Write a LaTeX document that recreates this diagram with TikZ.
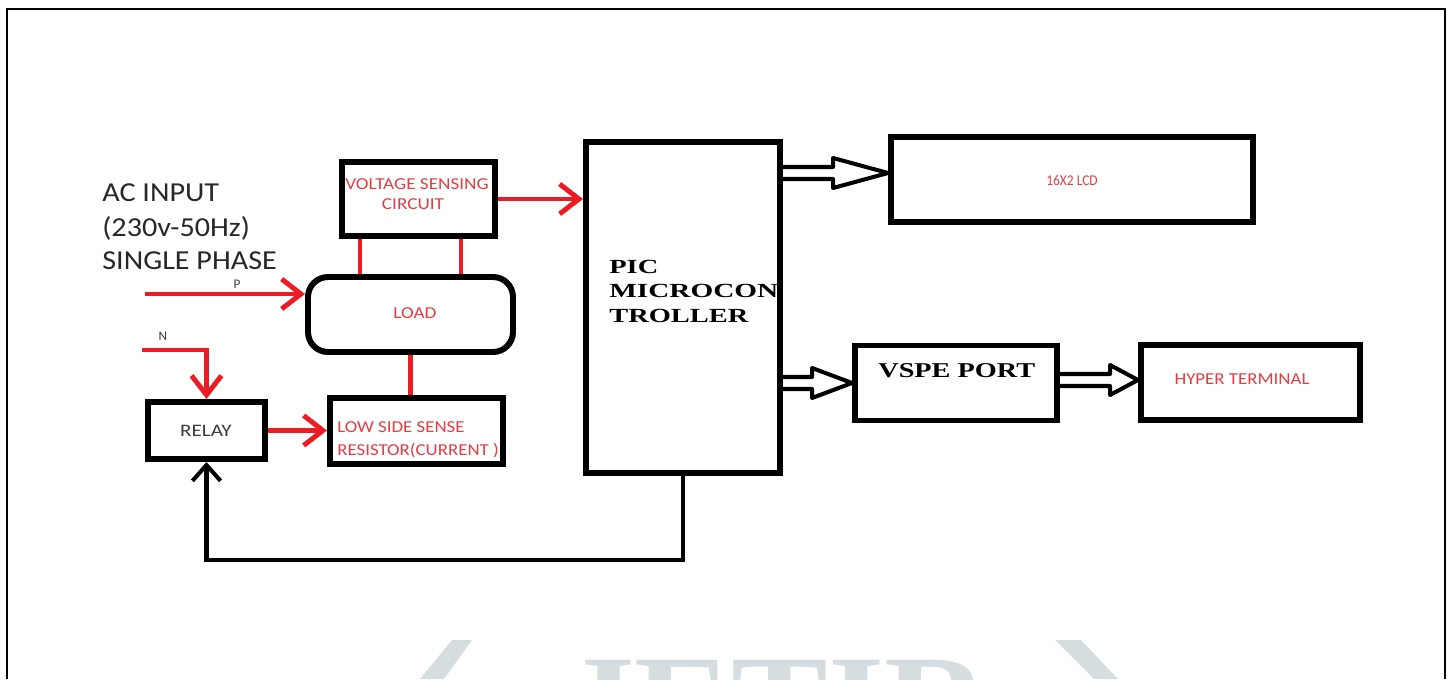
\documentclass[tikz,border=0pt]{standalone}
\usepackage{fontspec}
\usepackage{graphicx}
\newfontfamily\carl{Carlito}
\newfontfamily\tnr{Liberation Serif}
\usetikzlibrary{arrows.meta,calc}
\definecolor{pred}{RGB}{237,28,36}
\definecolor{ptxt}{RGB}{232,60,68}
\definecolor{dgray}{RGB}{40,40,40}
\definecolor{mgray}{RGB}{60,60,60}
\definecolor{wm}{RGB}{213,221,225}
\newcommand\hollowarr[3]{%
  \draw[hollow] ($(#1)+(0,-6)$) -- ($(#2)+(-#3,-6)$) -- ($(#2)+(-#3,-15)$) -- (#2)
    -- ($(#2)+(-#3,15)$) -- ($(#2)+(-#3,6)$) -- ($(#1)+(0,6)$);}
\newcommand\sx[2]{\scalebox{#1}[1]{#2}}
\tikzset{
  box/.style={draw=black, line width=3.4pt, rectangle, inner sep=0pt},
  redline/.style={draw=pred, line width=2.8pt},
  redarrow/.style={redline, -{Straight Barb[length=11pt,width=17pt]}},
  blkarrow/.style={draw=black, line width=2.3pt, -{Straight Barb[length=9pt,width=16pt]}},
  hollow/.style={draw=black, line width=2.3pt, line join=round},
  redtext/.style={text=ptxt, font=\carl\fontsize{9.5}{10}\selectfont, inner sep=0pt},
  grtext/.style={text=mgray, font=\carl\fontsize{10}{11}\selectfont, inner sep=0pt},
  actext/.style={text=dgray, font=\carl\fontsize{15.6}{18}\selectfont, inner sep=0pt, anchor=base west},
  bstext/.style={text=black, font=\tnr\bfseries\fontsize{11.4}{13.9}\selectfont, inner sep=0pt, anchor=base west},
}
\begin{document}
\begin{tikzpicture}[x=0.02cm,y=-0.02cm]
\useasboundingbox (0,0) rectangle (1449,679);
\fill[white] (0,0) rectangle (1449,679);
% outer frame
\draw[line width=1.5pt] (7,679) -- (7,9) -- (1445,9) -- (1445,679);

% watermark
\begin{scope}
\clip (0,0) rectangle (1449,679);
\node[anchor=north west, inner sep=0pt, text=wm, font=\tnr\bfseries\fontsize{75}{80}\selectfont] (wmtext) at (562,660) {\sx{1.1}{JETIR}};
\fill[wm] (452,640) -- (472,640) -- (444,679) -- (420,679) -- cycle;
\fill[wm] (1055,640) -- (1081,640) -- (1118,679) -- (1094,679) -- cycle;
\end{scope}

% AC input text
\node[actext] (ac1) at (102,201) {\sx{1.1}{AC INPUT}};
\node[actext] (ac2) at (102,236) {\sx{1.1}{(230v-50Hz)}};
\node[actext] (ac3) at (102,269) {\sx{1.1}{SINGLE PHASE}};

% boxes
\node[box, minimum width=153*0.02cm, minimum height=74*0.02cm] (volt) at (418.5,199) {};
\node[box, rounded corners=0.4cm, minimum width=205*0.02cm, minimum height=75*0.02cm] (load) at (410.5,314.5) {};
\node[box, minimum width=117*0.02cm, minimum height=57*0.02cm] (relay) at (206.5,430.5) {};
\node[box, minimum width=173*0.02cm, minimum height=66*0.02cm] (low) at (416.5,431) {};
\node[box, minimum width=194*0.02cm, minimum height=331*0.02cm] (pic) at (683,307.5) {};
\node[box, minimum width=362*0.02cm, minimum height=85*0.02cm] (lcd) at (1072,179.5) {};
\node[box, minimum width=202*0.02cm, minimum height=75*0.02cm] (vspe) at (956,383) {};
\node[box, minimum width=219*0.02cm, minimum height=75*0.02cm] (hyper) at (1250.5,382.5) {};

% texts in boxes
\node[redtext, anchor=base] (vt1) at (417,189) {\sx{1.15}{VOLTAGE SENSING}};
\node[redtext, anchor=base] (vt2) at (413,209) {\sx{1.15}{CIRCUIT}};
\node[redtext] (lt) at (415,313) {\sx{1.15}{LOAD}};
\node[grtext] (rt) at (206,431) {\sx{1.2}{RELAY}};
\node[redtext, anchor=base west] (ls1) at (337,432) {\sx{1.13}{LOW SIDE SENSE}};
\node[redtext, anchor=base west] (ls2) at (337,455) {\sx{1.13}{RESISTOR(CURRENT )}};
\node[redtext, font=\carl\fontsize{8.5}{9}\selectfont] (lcdt) at (1072,181) {\sx{0.9}{16X2 LCD}};
\node[redtext] (hyt) at (1242,379) {\sx{1.13}{HYPER TERMINAL}};
\node[bstext] (p1) at (609,273) {\sx{1.42}{PIC}};
\node[bstext] (p2) at (609,297) {\sx{1.46}{MICROCON}};
\node[bstext] (p3) at (609,322) {\sx{1.42}{TROLLER}};
\node[bstext, font=\tnr\bfseries\fontsize{12}{14}\selectfont] (vt) at (878,377) {\sx{1.34}{VSPE PORT}};

% P and N
\node[grtext, font=\carl\fontsize{7.5}{8}\selectfont] (plab) at (237,284) {P};
\node[grtext, font=\carl\fontsize{7.5}{8}\selectfont] (nlab) at (163,336) {N};
\coordinate (pin) at (145,294);
\coordinate (nin) at (142,350);

% red connectors
\draw[redarrow] (pin) -- (pin -| load.west);
\draw[redarrow] (nin) -| (relay.north);
\draw[redarrow] (volt.east) -- (volt.east -| pic.west);
\draw[redline] ([xshift=-1.17cm]volt.south) -- ([xshift=-1.17cm]volt.south |- load.north);
\draw[redline] ([xshift=0.85cm]volt.south) -- ([xshift=0.85cm]volt.south |- load.north);
\draw[redline] (load.south) -- (load.south |- low.north);
\draw[redarrow] (relay.east) -- (relay.east -| low.west);

% feedback
\draw[blkarrow] (pic.south) -- ++(0,84) -| (relay.south);

% hollow arrows
\coordinate (ya) at (0,173);
\coordinate (yb) at (0,383);
\coordinate (yc) at (0,380);
\hollowarr{pic.east |- ya}{lcd.west |- ya}{55}
\hollowarr{pic.east |- yb}{vspe.west |- yb}{40}
\hollowarr{vspe.east |- yc}{hyper.west |- yc}{28}
\end{tikzpicture}
\end{document}
